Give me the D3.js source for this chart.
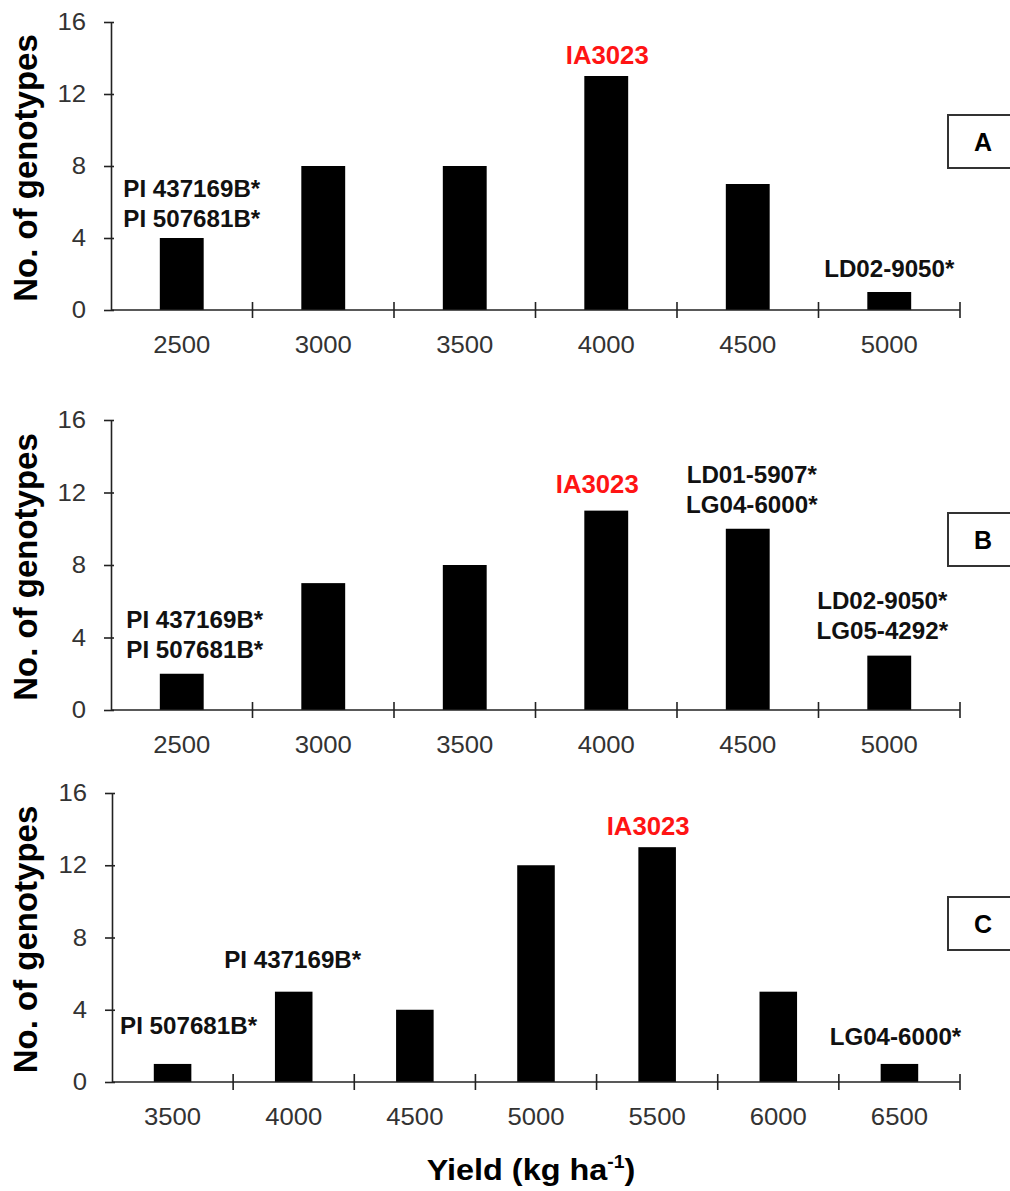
<!DOCTYPE html>
<html>
<head>
<meta charset="utf-8">
<script src="https://cdn.jsdelivr.net/npm/d3@7"></script>
<style>
  body { margin: 0; background: #fff; }
  svg text { font-family: "Liberation Sans", Arial, sans-serif; }
</style>
</head>
<body>
<div id="chart"></div>
<script>
// yield classes (kg/ha) and genotype counts, one set per panel
const yieldA = [2500, 3000, 3500, 4000, 4500, 5000]
const countA = [4, 8, 8, 13, 7, 1]
const yieldB = [2500, 3000, 3500, 4000, 4500, 5000]
const countB = [2, 7, 8, 11, 10, 3]
const yieldC = [3500, 4000, 4500, 5000, 5500, 6000, 6500]
const countC = [1, 5, 4, 12, 13, 5, 1]
const yTicks = [0, 4, 8, 12, 16]

// genotype names written above some bars
const notesA = [
  { at: 2500, lines: ["PI 437169B*", "PI 507681B*"] },
  { at: 4000, lines: ["IA3023"], check: true },
  { at: 5000, lines: ["LD02-9050*"] }
]
const notesB = [
  { at: 2500, lines: ["PI 437169B*", "PI 507681B*"] },
  { at: 4000, lines: ["IA3023"], check: true },
  { at: 4500, lines: ["LD01-5907*", "LG04-6000*"] },
  { at: 5000, lines: ["LD02-9050*", "LG05-4292*"] }
]
const notesC = [
  { at: 3500, lines: ["PI 507681B*"] },
  { at: 4000, lines: ["PI 437169B*"] },
  { at: 5500, lines: ["IA3023"], check: true },
  { at: 6500, lines: ["LG04-6000*"] }
]

// where each panel sits on the page, and label nudges [dx, gap above bar]
const panels = [
  { id: "A", cats: yieldA, vals: countA, notes: notesA, left: 111, top: 22, bottom: 310, boxTop: 115,
    nudge: { 2500: [10, 11], 4000: [1, 12], 5000: [0, 15] } },
  { id: "B", cats: yieldB, vals: countB, notes: notesB, left: 111, top: 420, bottom: 710, boxTop: 513,
    nudge: { 2500: [13, 16], 4000: [-9, 18], 4500: [4, 16], 5000: [-7, 17] } },
  { id: "C", cats: yieldC, vals: countC, notes: notesC, left: 112, top: 793, bottom: 1082, boxTop: 897,
    nudge: { 3500: [16, 30], 4000: [-1, 24], 5500: [-9, 12], 6500: [-4, 19] } }
]

const width = 1010, height = 1191
const right = 960
const axisColor = "#222"

// the source picture is a little wider than the font, so stretch text sideways
let widen = function(sel, k) {
  sel.each(function() {
    let t = d3.select(this)
    let x0 = +t.attr("x") || 0
    t.attr("x", 0).attr("transform", `translate(${x0},0) scale(${k},1)`)
  })
}

let svg = d3.select("#chart").append("svg")
  .attr("width", width)
  .attr("height", height)

panels.forEach((p) => {
  let g = svg.append("g")

  let x = d3.scaleBand()
    .domain(p.cats)
    .range([p.left, right])
    .padding(0)
  let y = d3.scaleLinear()
    .domain([0, 16])
    .range([p.bottom, p.top])

  let barW = x.bandwidth() * 0.31

  g.selectAll(".bar")
    .data(p.cats.map((c, i) => ({ cat: c, val: p.vals[i] })))
    .enter().append("rect")
    .attr("class", "bar")
    .attr("x", (d) => x(d.cat) + (x.bandwidth() - barW) / 2)
    .attr("y", (d) => y(d.val))
    .attr("width", barW)
    .attr("height", (d) => y(0) - y(d.val))
    .style("fill", "#000")

  // y axis
  let yAxis = g.append("g")
    .attr("transform", `translate(${p.left},0)`)
    .call(d3.axisLeft(y).tickValues(yTicks).tickSizeInner(7).tickSizeOuter(0).tickPadding(18))
  yAxis.select(".domain").attr("stroke", axisColor).attr("stroke-width", 1.6)
  yAxis.selectAll(".tick line").attr("x1", 3).attr("stroke", axisColor).attr("stroke-width", 1.6)
  yAxis.selectAll(".tick text")
    .attr("font-size", 24)
    .attr("fill", "#333")
    .attr("font-family", "Liberation Sans, Arial, sans-serif")
    .call(widen, 1.07)

  // x axis: labels under band centres, ticks on band edges
  let xAxis = g.append("g")
    .attr("transform", `translate(0,${p.bottom})`)
    .call(d3.axisBottom(x).tickSize(0).tickPadding(26))
  xAxis.select(".domain").remove()
  xAxis.selectAll(".tick text")
    .attr("font-size", 24)
    .attr("fill", "#333")
    .attr("font-family", "Liberation Sans, Arial, sans-serif")
    .call(widen, 1.07)

  g.append("line")
    .attr("x1", p.left).attr("x2", right)
    .attr("y1", p.bottom).attr("y2", p.bottom)
    .attr("stroke", axisColor).attr("stroke-width", 1.6)

  let edges = p.cats.slice(1).map((c) => x(c)).concat([right])
  g.selectAll(".edge")
    .data(edges)
    .enter().append("line")
    .attr("x1", (d) => d).attr("x2", (d) => d)
    .attr("y1", p.bottom - 8).attr("y2", p.bottom + 8)
    .attr("stroke", axisColor).attr("stroke-width", 1.6)

  // y title
  g.append("text")
    .attr("transform", `translate(37,${(p.top + p.bottom) / 2 + 2}) rotate(-90)`)
    .attr("text-anchor", "middle")
    .attr("font-size", 33)
    .attr("font-weight", "bold")
    .attr("fill", "#000")
    .text("No. of genotypes")

  // genotype notes above bars
  p.notes.forEach((n) => {
    let i = p.cats.indexOf(n.at)
    let nudge = p.nudge[n.at]
    let cx = x(n.at) + x.bandwidth() / 2 + nudge[0]
    let baseY = y(p.vals[i]) - nudge[1]
    n.lines.forEach((line, k) => {
      g.append("text")
        .attr("text-anchor", "middle")
        .attr("font-weight", "bold")
        .attr("font-size", n.check ? 25 : 23)
        .attr("fill", n.check ? "#ff1414" : "#111")
        .attr("x", cx)
        .attr("y", baseY - (n.lines.length - 1 - k) * 30)
        .text(line)
        .call(widen, n.check ? 1.03 : 1.05)
    })
  })

  // panel letter box
  g.append("rect")
    .attr("x", 948).attr("y", p.boxTop)
    .attr("width", 70).attr("height", 53)
    .attr("fill", "#fff")
    .attr("stroke", "#333").attr("stroke-width", 2)
  g.append("text")
    .attr("x", 983).attr("y", p.boxTop + 27)
    .attr("dy", "0.35em")
    .attr("text-anchor", "middle")
    .attr("font-size", 25)
    .attr("font-weight", "bold")
    .attr("fill", "#000")
    .text(p.id)
})

// x title
let title = svg.append("text")
  .attr("x", 531).attr("y", 1180)
  .attr("text-anchor", "middle")
  .attr("font-size", 30)
  .attr("font-weight", "bold")
  .attr("fill", "#000")
title.append("tspan").text("Yield (kg ha")
title.append("tspan").attr("font-size", 18).attr("dy", -12).text("-1")
title.append("tspan").attr("dy", 12).text(")")
title.call(widen, 1.08)
</script>
</body>
</html>
